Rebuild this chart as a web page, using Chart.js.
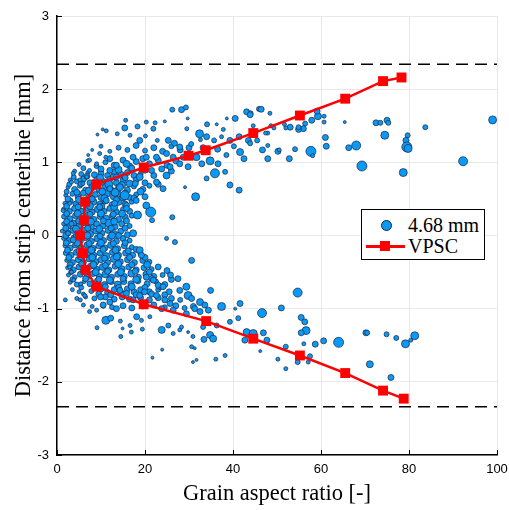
<!DOCTYPE html>
<html>
<head>
<meta charset="utf-8">
<script src="https://cdn.jsdelivr.net/npm/chart.js@4/dist/chart.umd.min.js"></script>
<style>
  html, body { margin: 0; padding: 0; background: #fff; }
  #wrap { position: relative; width: 509px; height: 510px; }
  #legend {
    position: absolute; left: 361px; top: 209px; width: 124px; height: 51px;
    border: 1px solid #000; background: #fff; box-sizing: border-box;
    font-family: "Liberation Serif", "DejaVu Serif", serif; font-size: 20px; color: #000;
  }
  #legend .row { position: absolute; left: 0; height: 24px; line-height: 24px; width: 100%; }
  #legend .lbl { position: absolute; left: 46px; top: 0; }
  #legend .dot {
    position: absolute; left: 19px; top: 7px; width: 9px; height: 9px; border-radius: 50%;
    background: #0a99f5; border: 0.8px solid #1b2440;
  }
  #legend .ln { position: absolute; left: 4px; top: 11px; width: 39px; height: 2.5px; background: #ff0000; }
  #legend .sq { position: absolute; left: 18px; top: 7px; width: 10px; height: 10px; background: #ff0000; }
</style>
</head>
<body>
<div id="wrap">
  <canvas id="c" width="509" height="510"></canvas>
  <div id="legend">
    <div class="row" style="top:3px"><span class="dot"></span><span class="lbl">4.68 mm</span></div>
    <div class="row" style="top:24px"><span class="ln"></span><span class="sq"></span><span class="lbl">VPSC</span></div>
  </div>
</div>
<script>
// VPSC prediction, walked from the top branch down to the bottom one
const vpscX = [78.3, 74.1, 65.5, 55.2, 44.6, 33.8, 29.9, 19.7, 9.0, 6.4, 6.1, 5.2, 5.9, 6.5, 9.0, 19.7, 33.9, 44.6, 55.2, 65.5, 74.1, 78.8];
const vpscY = [2.16, 2.11, 1.87, 1.64, 1.40, 1.165, 1.09, 0.93, 0.70, 0.46, 0.21, 0.0, -0.24, -0.47, -0.70, -0.94, -1.17, -1.41, -1.64, -1.88, -2.12, -2.23];

// strip half thickness (dashed lines)
const stripEdge = 2.34;

const xTicks = [0, 20, 40, 60, 80, 100];
const yTicks = [-3, -2, -1, 0, 1, 2, 3];

// measured grains: [aspect ratio, distance, grain size]
const grainsCore = [
  [4,0.88,2],[5.5,0.84,2.5],[7,0.86,2],[8.5,0.83,3],[10,0.85,3],[11.5,0.82,3],[13,0.87,3],[14.5,0.83,3.5],[16,0.86,3],[17.5,0.82,3],[19,0.84,2.5],
  [3,0.76,2],[4.5,0.74,2.5],[6,0.77,3],[7.5,0.72,3],[9,0.76,3],[10.5,0.73,3.5],[12,0.77,3],[13.5,0.72,3],[15,0.75,3],[16.5,0.71,3.5],[18,0.76,3],[20,0.72,3],
  [2.5,0.66,2],[4,0.63,3],[5.2,0.68,2.5],[6.5,0.62,3],[8,0.66,3.5],[9.5,0.63,3],[11,0.67,3],[12.5,0.61,3.5],[14,0.66,3],[16,0.62,3],[17.5,0.67,2.5],[19.5,0.63,3],[21,0.68,2.5],
  [2,0.55,2],[3.5,0.57,2.5],[4.8,0.53,3],[6,0.58,3],[7.3,0.52,3.5],[8.7,0.56,3],[10,0.52,3],[11.3,0.57,3.5],[12.8,0.53,3],[14,0.57,3],[16.5,0.52,3],[18,0.56,2.5],[20,0.53,3],
  [1.8,0.44,2],[3,0.47,3],[4.3,0.43,3],[5.5,0.47,2.5],[7,0.42,3],[8.3,0.46,3.5],[9.8,0.43,3],[11,0.47,3],[12.5,0.42,3],[14,0.46,3.5],[15.5,0.43,3],[17,0.46,2.5],
  [1.5,0.36,2],[2.8,0.33,3],[4,0.37,3],[5.3,0.33,3.5],[6.7,0.37,3],[8,0.32,3],[9.3,0.36,3.5],[10.7,0.33,3],[12,0.37,3],[13.5,0.32,3],[15,0.36,2.5],[16.5,0.33,3],
  [1.6,0.26,2.5],[2.9,0.23,3],[4.2,0.27,3],[5.6,0.23,3],[7,0.27,3.5],[8.4,0.22,3],[9.8,0.26,3],[11.2,0.23,3.5],[12.6,0.27,3],[14,0.22,3],[15.5,0.25,3],[17,0.27,2.5],
  [1.5,0.16,2],[2.6,0.13,3],[3.8,0.17,3],[5,0.13,3],[6.4,0.17,3],[7.7,0.12,3.5],[9,0.16,3],[10.4,0.13,3],[11.8,0.17,4],[13.2,0.12,3],[14.7,0.16,3],[16.5,0.13,2.5],
  [1.2,0.06,2],[2.4,0.03,3],[3.6,0.07,3],[4.8,0.03,3],[6.2,0.07,3],[7.5,0.02,3.5],[8.8,0.06,3],[10.2,0.03,3],[11.6,0.07,3],[13,0.02,3.5],[14.5,0.06,3],
  [1.5,-0.04,2],[2.7,-0.07,3],[3.9,-0.03,3],[5.2,-0.07,3.5],[6.5,-0.03,3],[7.8,-0.08,3],[9.2,-0.04,3.5],[10.6,-0.07,3],[12,-0.03,3],[13.5,-0.08,3],[15,-0.04,3],[16.5,-0.07,2.5],
  [1.8,-0.14,2],[3,-0.17,3],[4.2,-0.13,3],[5.5,-0.17,3],[6.8,-0.13,3],[8.1,-0.18,3.5],[9.5,-0.14,3],[10.9,-0.17,3],[12.3,-0.13,3.5],[13.8,-0.18,3],[15.3,-0.14,3],[17,-0.16,2.5],
  [2,-0.24,2.5],[3.2,-0.27,3],[4.4,-0.23,3],[5.7,-0.28,3],[7,-0.23,3.5],[8.4,-0.27,3],[9.8,-0.24,3],[11.2,-0.28,3.5],[12.6,-0.23,3],[14,-0.27,3],[15.6,-0.24,3],[17.2,-0.27,3],[19,-0.25,2.5],
  [2.2,-0.34,2],[3.5,-0.37,3],[4.8,-0.33,3],[6,-0.37,3],[7.3,-0.32,3],[8.7,-0.36,3.5],[10,-0.33,3],[11.5,-0.37,3],[12.9,-0.32,3.5],[14.4,-0.36,3],[16,-0.33,3],[17.6,-0.37,3],[19.5,-0.34,3],[21,-0.36,2.5],
  [2.4,-0.44,2],[3.7,-0.47,3],[5,-0.43,3],[6.3,-0.47,2.5],[7.6,-0.42,3],[9,-0.46,3],[10.4,-0.43,3.5],[11.8,-0.47,3],[13.2,-0.42,3],[14.7,-0.46,3.5],[16.3,-0.43,3],[18,-0.47,3],[19.8,-0.44,3],[21.5,-0.46,2.5],[23,-0.43,3],
  [2.6,-0.54,2],[4,-0.57,2.5],[5.3,-0.53,3],[6.8,-0.57,3],[8.2,-0.52,3],[9.6,-0.56,3],[11,-0.53,3.5],[12.4,-0.57,3],[13.8,-0.53,3],[15.3,-0.56,3],[16.9,-0.52,3.5],[18.5,-0.57,3],[20.2,-0.53,3],[22,-0.56,3],[24,-0.54,2.5],
  [3,-0.64,2],[4.5,-0.67,2.5],[6.2,-0.63,2],[7.5,-0.66,3],[9.2,-0.62,3],[10.8,-0.67,3],[12.3,-0.63,3],[13.8,-0.67,3.5],[15.2,-0.63,3],[16.8,-0.66,3],[18.4,-0.62,3],[20.5,-0.66,3],[22.5,-0.63,2.5],[24.5,-0.67,3],
  [3.5,-0.74,2],[5,-0.77,2],[7.8,-0.76,2.5],[10,-0.73,3],[11.5,-0.78,3],[13,-0.74,3],[14.5,-0.78,3],[16,-0.73,3],[17.5,-0.77,3],[19,-0.74,3],[21,-0.77,3],[23,-0.74,2.5],[25.5,-0.77,3],
  [4.5,-0.86,2],[6.5,-0.84,2],[8.5,-0.86,2.5],[11,-0.84,3],[13,-0.87,3],[14.8,-0.84,3],[16.5,-0.87,3],[19,-0.85,3],[21,-0.88,3],[23,-0.85,3],[26,-0.86,3],[28,-0.88,2.5],
  [6,-0.95,2],[8,-0.97,2],[10.5,-0.96,2.5],[12.5,-0.98,2.5],[15,-0.96,3],[17,-0.99,3],[19.5,-0.97,2.5],[22,-0.95,3],[24.5,-0.98,2.5],[27,-0.96,3],[29,-0.99,2.5],[31,-0.97,3],
  [5,0.97,2],[7,1.02,2],[9,0.95,2.5],[11,1.0,2.5],[13,0.96,3],[15,1.03,3],[16.5,0.95,3],[18,1.01,3],[21,0.98,3],[23,1.03,3],[25,0.96,3],[27,1.02,3],
  [8,1.17,1.5],[10,1.22,2],[12,1.15,2],[14,1.2,2.5],[16,1.17,2.5],[18,1.23,3],[20,1.16,2.5],[22,1.2,3],[24,1.15,3],[26,1.22,2.5],[28,1.17,3],[30,1.2,3]
];

// second, denser layer of the core cloud
const grainsCoreFill = [
  [3.8,0.80,2.5],[6.8,0.81,3],[9.8,0.79,3.5],[12.8,0.80,3],[15.5,0.79,3],[18.8,0.80,3.5],[22,0.82,3],
  [2.8,0.70,2.5],[5.5,0.71,3],[8.5,0.69,3.5],[11.8,0.70,4],[14.8,0.69,3.5],[17.8,0.71,3],[23,0.70,3],
  [2.2,0.60,2.5],[4.5,0.59,3],[7.2,0.61,3.5],[10.3,0.60,3.5],[13.2,0.59,4],[15.5,0.58,3],[19,0.60,3.5],
  [2.5,0.50,3],[5,0.49,3.5],[8,0.50,3],[10.8,0.51,3.5],[13.5,0.49,3],[15,0.52,3.5],[17.5,0.51,3],
  [2.2,0.40,3],[4.8,0.39,3],[7.5,0.40,3.5],[10.2,0.40,3],[13,0.39,3.5],[15.8,0.41,3],
  [2.2,0.30,3],[4.7,0.30,3.5],[7.5,0.29,3],[10,0.30,3.5],[12.8,0.29,3],[14.8,0.30,3.5],
  [2.2,0.19,3],[4.9,0.20,3],[7.7,0.19,3.5],[10.5,0.20,3],[13,0.19,3.5],[15.8,0.20,3],
  [2,0.10,3],[4.3,0.09,3.5],[7,0.10,3],[9.6,0.09,3.5],[12.3,0.10,3],[15.5,0.10,3],
  [2,0.00,3],[4.4,-0.01,3],[6.9,0.00,3.5],[9.8,-0.01,3],[12.5,0.00,3.5],[14,0.0,3],[16,0.01,3],
  [2.1,-0.10,3],[4.6,-0.10,3.5],[7.3,-0.11,3],[10,-0.10,3.5],[12.8,-0.11,3],[15.5,-0.10,3],
  [2.4,-0.20,3],[5,-0.21,3],[7.8,-0.20,3.5],[10.5,-0.19,3],[13.3,-0.20,3.5],[16.2,-0.21,3],[18,-0.19,3],
  [2.7,-0.30,3],[5.3,-0.29,3],[8,-0.30,3.5],[10.8,-0.31,3],[13.6,-0.29,3.5],[16.5,-0.30,3],[20,-0.30,3],
  [3,-0.40,3],[5.6,-0.39,3],[8.3,-0.40,3.5],[11,-0.41,3],[13.9,-0.39,3.5],[17,-0.40,3],[20.5,-0.40,3.5],
  [3.2,-0.50,2.5],[6,-0.49,3],[8.8,-0.50,3.5],[11.5,-0.49,3],[14.5,-0.50,3.5],[17.8,-0.49,3],[21,-0.50,3],[25,-0.48,3],
  [3.5,-0.60,2.5],[6.5,-0.59,3],[9.5,-0.60,3],[12,-0.61,3.5],[15,-0.59,3],[18,-0.60,3.5],[21.5,-0.59,3],[26,-0.60,3],
  [5.5,-0.71,2.5],[8.5,-0.70,3],[11,-0.70,3],[14,-0.71,3],[17,-0.70,3.5],[20,-0.71,3],[23.5,-0.70,3],
  [6,-0.80,2],[9.5,-0.80,3],[12.2,-0.81,3],[15,-0.80,3],[18,-0.81,3],[21.5,-0.80,3],[24.5,-0.81,3],
  [6,0.92,2.5],[10,0.91,3],[14,0.90,3.5],[17,0.92,3],[20,0.9,3.5],[12,1.05,3],[19.5,1.05,3],[26,0.88,3]
];

const grainsUpper = [
  [26.2,1.72,2.5],[28.3,1.72,3],[29.3,1.75,2.5],[29.7,1.60,1.5],[29.5,1.46,2],[15.6,1.575,2],[15.4,1.47,3],[18.3,1.49,2.5],[20.3,1.55,2],[22.3,1.54,2],
  [24.5,1.56,1.5],[21.9,1.46,2.5],[11.2,1.43,2],[10.4,1.45,1.5],[9.2,1.38,1.5],[13.7,1.39,2],[16.6,1.37,2],[20.1,1.36,2],[18.8,1.30,3],[22.8,1.30,2],
  [25.3,1.30,3],[26.7,1.26,3],[27.9,1.21,3],[32.6,1.31,2],[34.1,1.52,2.5],[36.3,1.52,1.5],[38.6,1.60,1.5],[40.5,1.60,3],[43.1,1.69,3],[44.0,1.67,2.5],
  [45.9,1.73,2.5],[32.4,1.39,4],[34.0,1.35,3],[35.7,1.30,2.5],[37.4,1.35,2],[39.3,1.30,3],[41.4,1.35,3],[41.6,1.14,3.5],[43.5,1.30,3],[31.7,1.07,3.5],
  [32.9,0.98,3],[34.8,1.02,4],[35.9,0.85,4.5],[36.6,0.98,3],[38.2,0.87,2.5],[39.3,0.69,3],[41.4,0.62,3],[34.0,0.78,2.5],[31.5,0.53,4],[29.1,0.66,1.5],
  [26.2,0.25,2.5],[26.8,-0.09,2.5],[24.9,-0.04,2],[21.3,0.32,5],[18.3,0.28,4],[20.3,0.41,3.5],[21.6,0.21,2.5],[17.3,0.03,3.5],[18.8,-0.2,3.5],[19.2,-0.27,3],
  [15.4,0.55,4.5],[24.1,0.64,3],[22.6,0.73,3],[24.9,0.82,3.5],[21.5,0.89,3],[23.8,0.91,3],[25.7,0.94,3],[27.9,0.98,3],[29.8,0.94,3],[22.6,1.07,3],
  [24.9,1.12,3],[26.4,1.07,3],[28.7,1.07,3],[20.3,1.07,3],[17.3,1.07,3],[15.8,0.98,3.5],[13.5,0.96,3],[12.0,0.89,3],[13.5,0.80,3],[14.3,0.66,3.5],
  [12.0,0.64,3],[11.2,0.48,3],[13.1,0.44,3],[15.8,0.37,3],[18.0,0.48,3],[9.7,0.39,3],[7.4,1.03,2],[7.1,1.1,1.5],[9.7,1.12,2],[9.0,0.98,2],
  [11.1,1.07,2],[7.4,0.89,2],[5.2,0.76,2],[3.7,0.85,2],[3.3,0.73,2],[5.9,0.71,2],[6.8,0.80,2],[1.4,0.34,2],[2.9,0.44,2],[3.3,0.16,2.5],
  [2.5,0.03,2.5],[3.7,-0.06,3],[36.5,1.18,3],[38.5,1.10,2.5],[40.2,1.22,2.5],[42.5,1.05,3],[37.8,1.45,2],[33.2,1.20,3],[30.5,1.25,2.5],[45.5,1.30,2.5]
];

const grainsLower = [
  [1.9,-0.88,2],[2.9,-0.43,2],[3.3,-0.50,2],[3.8,-0.61,2],[5.4,-0.66,2],[5.3,-0.88,2],[6.3,-0.82,2],[7.4,-1.04,2],[9.0,-1.02,2],[9.1,-1.26,2],
  [11.1,-1.16,4],[12.2,-1.13,3],[10.5,-0.95,3],[9.9,-0.84,3],[12.0,-0.91,3],[13.5,-1.0,3],[14.4,-1.17,2],[14.5,-1.38,2],[14.9,-1.27,1.5],[16.6,-1.23,2],
  [16.9,-1.32,2],[18.1,-1.11,3],[19.2,-1.16,2],[19.4,-1.28,2],[17.3,-0.88,3],[15.8,-0.79,3],[14.3,-0.75,3],[18.8,-0.82,3],[20.3,-0.57,3],[21.9,-0.61,3],
  [23.0,-0.68,3],[24.1,-0.70,3],[19.9,-0.77,3],[22.6,-0.82,3],[24.5,-0.88,3],[25.7,-0.93,3],[26.4,-1.02,3],[23.8,-1.0,3],[21.1,-1.11,2],[23.8,-1.29,3.5],
  [25.3,-1.23,2.5],[26.4,-1.34,2],[27.9,-1.29,2],[28.3,-1.25,2],[21.7,-1.67,1.5],[23.9,-1.56,1.5],[25.8,-0.54,3],[27.5,-0.59,3],[29.4,-0.70,3.5],[29.8,-0.82,4],
  [30.6,-0.86,3],[27.9,-0.75,3],[32.5,-0.91,3.5],[33.6,-0.95,3],[34.9,-0.75,3],[37.4,-0.97,4],[34.4,-1.02,3],[31.3,-1.0,3],[29.4,-1.07,3],[32.5,-1.04,3],
  [29.8,-1.32,1.5],[30.9,-1.38,2],[30.6,-1.52,2],[30.9,-1.73,1.5],[31.7,-1.70,1.5],[31.3,-1.54,1.5],[33.2,-1.25,2.5],[33.4,-1.42,3],[34.8,-1.36,3.5],[35.5,-1.41,3.5],
  [36.3,-1.23,2.5],[36.1,-1.69,2],[38.2,-1.64,2],[39.3,-1.18,2.5],[41.2,-1.13,2.5],[41.6,-0.93,3],[40.5,-1.0,1.5],[43.1,-1.32,3.5],[42.7,-1.43,3],[44.6,-1.38,4],
  [30.6,-0.34,3]
];

const grainsFar = [
  [99.0,1.58,4],[83.7,1.48,2.5],[75.0,1.575,3],[75.3,1.54,2.5],[72.5,1.54,3],[73.5,1.54,2.5],[74.5,1.37,4],[79.7,1.37,2.5],[79.3,1.30,3],[79.5,1.21,5],
  [79.8,1.19,4],[78.7,0.86,4],[92.3,1.015,4.5],[69.3,0.95,5],[68.0,1.23,4.5],[66.3,1.20,3],[65.4,1.55,1.5],[61.2,1.22,3],[61.0,1.34,3],[60.7,1.55,2],
  [60.7,1.63,2],[59.3,1.63,3.5],[59.1,1.70,3],[57.9,1.575,3],[56.4,1.53,2.5],[57.7,1.15,5],[58.1,1.09,2],[56.0,1.46,3],[54.9,1.45,3],[54.9,1.48,2.5],
  [53.0,1.48,3],[52.0,1.47,2],[51.7,1.52,2],[49.3,1.47,2],[48.6,1.50,2],[48.4,1.67,2],[46.4,1.725,3],[47.9,1.40,2],[47.4,1.40,2],[47.9,1.23,2],
  [46.7,1.17,3],[47.9,1.05,3],[50.2,1.15,3],[50.5,1.17,2],[52.8,1.05,3],[54.1,1.18,2.5],[43.9,1.65,3],[44.6,1.50,2],[43.9,1.26,2.5],
  [54.7,-0.78,4.5],[51.0,-0.99,3],[46.6,-1.06,4.5],[55.5,-1.12,3],[56.3,-1.18,3],[56.6,-1.30,4],[55.5,-1.33,3],[56.1,-1.48,2],[58.7,-1.485,3],[60.6,-1.44,3],
  [64.0,-1.46,5],[70.2,-1.33,3],[70.5,-1.33,2.5],[74.9,-1.35,2.5],[77.1,-1.40,2.5],[81.3,-1.37,4],[80.4,-1.43,2],[79.2,-1.48,4],[71.1,-1.76,3.5],[75.9,-1.94,3],
  [57.5,-1.65,2.5],[57.1,-1.73,2],[54.7,-1.73,2.5],[52.0,-1.82,2],[52.0,-1.52,2.5],[50.2,-1.69,2],[46.9,-1.33,3],[47.7,-1.43,3],[46.2,-1.58,1.5],[44.6,-1.34,4]
];

const grains = [].concat(grainsCore, grainsCoreFill, grainsUpper, grainsLower, grainsFar)
  .map(g => ({ x: g[0], y: g[1], r: g[2] }));
const vpsc = vpscX.map((x, i) => ({ x: x, y: vpscY[i] }));

const innerTicks = {
  id: 'innerTicks',
  afterDraw(chart) {
    const { ctx, chartArea: a, scales: { x, y } } = chart;
    ctx.save();
    ctx.strokeStyle = '#000';
    ctx.lineWidth = 1;
    ctx.beginPath();
    xTicks.forEach(v => { const px = Math.round(x.getPixelForValue(v)) + 0.5; ctx.moveTo(px, a.bottom); ctx.lineTo(px, a.bottom - 5); });
    yTicks.forEach(v => { const py = Math.round(y.getPixelForValue(v)) + 0.5; ctx.moveTo(a.left, py); ctx.lineTo(a.left + 5, py); });
    ctx.stroke();
    ctx.restore();
  }
};

const tickFont = { family: '"Liberation Sans", Arial, sans-serif', size: 13 };
const titleFont = { family: '"Liberation Serif", "Times New Roman", serif', size: 22.5 };

new Chart(document.getElementById('c'), {
  data: {
    datasets: [
      {
        type: 'line', label: 'VPSC', data: vpsc,
        borderColor: '#ff0000', backgroundColor: '#ff0000', borderWidth: 2.5,
        pointStyle: 'rect', pointRadius: 7, pointHoverRadius: 7, pointBorderWidth: 0, tension: 0
      },
      {
        type: 'line', label: 'edgeTop', data: [{ x: 0, y: stripEdge }, { x: 100, y: stripEdge }],
        borderColor: '#000', borderWidth: 1.5, borderDash: [12, 7], pointRadius: 0
      },
      {
        type: 'line', label: 'edgeBottom', data: [{ x: 0, y: -stripEdge }, { x: 100, y: -stripEdge }],
        borderColor: '#000', borderWidth: 1.5, borderDash: [12, 7], pointRadius: 0
      },
      {
        type: 'bubble', label: '4.68 mm', data: grains,
        backgroundColor: '#0a99f5', borderColor: '#1b2440', borderWidth: 0.7
      }
    ]
  },
  options: {
    responsive: false,
    animation: false,
    events: [],
    layout: { padding: { top: 16, right: 0, left: 0, bottom: 0 } },
    plugins: { legend: { display: false }, tooltip: { enabled: false } },
    scales: {
      x: {
        type: 'linear', min: 0, max: 100,
        afterFit: s => { s.height = 55; s.paddingRight = 12; s.paddingLeft = 0; },
        afterBuildTicks: s => { s.ticks = xTicks.map(v => ({ value: v })); },
        grid: { color: '#e8e8e8', lineWidth: 1, drawTicks: false },
        border: { color: '#000', width: 1.5 },
        ticks: { color: '#000', font: tickFont, padding: 7, maxRotation: 0 },
        title: { display: true, text: 'Grain aspect ratio [-]', color: '#000', font: titleFont, padding: { top: 2, bottom: 2 } }
      },
      y: {
        type: 'linear', min: -3, max: 3,
        afterFit: s => { s.width = 57; s.paddingTop = 0; s.paddingBottom = 0; },
        afterBuildTicks: s => { s.ticks = yTicks.map(v => ({ value: v })); },
        grid: { color: '#e8e8e8', lineWidth: 1, drawTicks: false },
        border: { color: '#000', width: 1.5 },
        ticks: { color: '#000', font: tickFont, padding: 8 },
        title: { display: true, text: 'Distance from strip centerline [mm]', color: '#000', font: titleFont, padding: { top: 11, bottom: 2 } }
      }
    }
  },
  plugins: [innerTicks]
});
</script>
</body>
</html>
